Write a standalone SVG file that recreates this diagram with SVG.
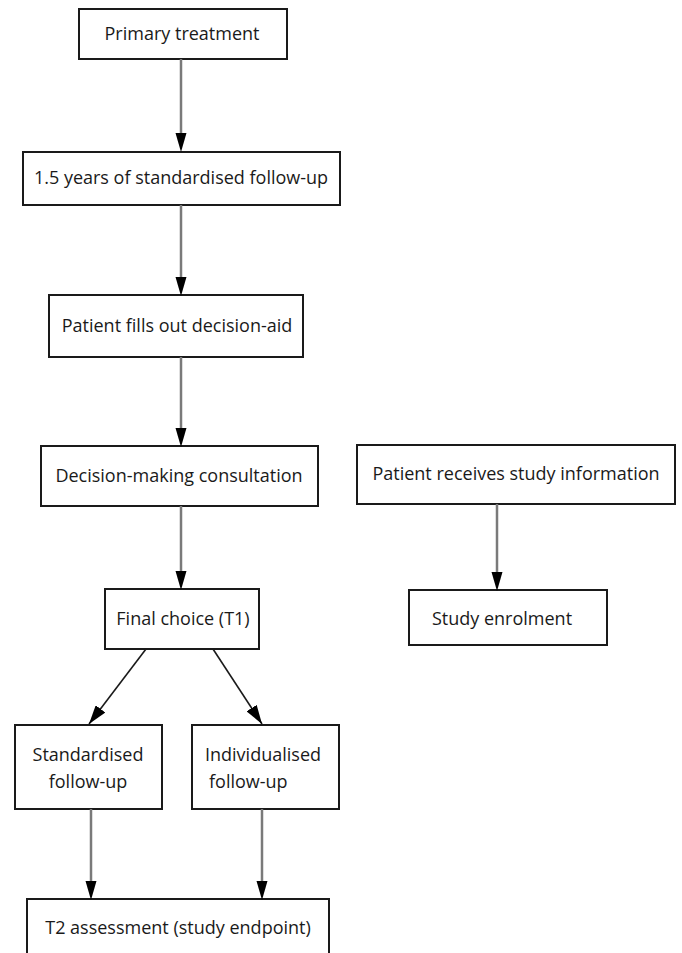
<svg xmlns="http://www.w3.org/2000/svg" width="682" height="953" viewBox="0 0 682 953">
<style>
.box{fill:#fff;stroke:#1a1a1a;stroke-width:2}
.t{font-family:"Open Sans","Liberation Sans",Arial,sans-serif;font-size:18px;fill:#1a1a1a}
.c{text-anchor:middle}
.v{stroke:#7a7a7a;stroke-width:2.5;fill:none}
.d{stroke:#1a1a1a;stroke-width:1.6;fill:none}
</style>
<defs>
<marker id="ad" markerUnits="userSpaceOnUse" markerWidth="20" markerHeight="12" viewBox="0 0 20 12" refX="19" refY="6" orient="auto">
<path d="M0,0 L19,6 L0,12 Z" fill="#000"/>
</marker>
</defs>
<g id="n1"><rect class="box" x="79" y="9" width="208" height="50"/><text class="t c" x="182" y="40">Primary treatment</text></g>
<g id="n2"><rect class="box" x="23" y="152" width="317" height="53"/><text class="t c" x="181" y="184">1.5 years of standardised follow-up</text></g>
<g id="n3"><rect class="box" x="49" y="295" width="254" height="62"/><text class="t c" x="177" y="332">Patient fills out decision-aid</text></g>
<g id="n4"><rect class="box" x="41" y="446" width="277" height="60"/><text class="t c" x="179" y="482">Decision-making consultation</text></g>
<g id="n5"><rect class="box" x="357" y="445" width="318" height="59"/><text class="t c" x="516" y="480">Patient receives study information</text></g>
<g id="n6"><rect class="box" x="409" y="590" width="198" height="55"/><text class="t c" x="502" y="625">Study enrolment</text></g>
<g id="n7"><rect class="box" x="105" y="589" width="154" height="60"/><text class="t c" x="183" y="625">Final choice (T1)</text></g>
<g id="n8"><rect class="box" x="15" y="725" width="147" height="84"/><text class="t c" x="88" y="761">Standardised</text><text class="t c" x="88" y="788">follow-up</text></g>
<g id="n9"><rect class="box" x="192" y="725" width="147" height="84"/><text class="t" x="205" y="761">Individualised</text><text class="t" x="209" y="788">follow-up</text></g>
<g id="n10"><rect class="box" x="27" y="899" width="302" height="70"/><text class="t c" x="178" y="934">T2 assessment (study endpoint)</text></g>
<g id="edges">
<path class="v" d="M181,59 V133"/>
<path class="v" d="M181,205 V277"/>
<path class="v" d="M181,357 V428"/>
<path class="v" d="M181,506 V571"/>
<path class="v" d="M497,504 V572"/>
<path class="v" d="M91,809 V881"/>
<path class="v" d="M262,809 V881"/>
<path d="M175.5,133 H186.5 L181,152 Z"/>
<path d="M175.5,277 H186.5 L181,296 Z"/>
<path d="M175.5,428 H186.5 L181,447 Z"/>
<path d="M175.5,571 H186.5 L181,590 Z"/>
<path d="M491.5,572 H502.5 L497,591 Z"/>
<path d="M85.5,881 H96.5 L91,900 Z"/>
<path d="M256.5,881 H267.5 L262,900 Z"/>
<path class="d" d="M146,649 L89,724" marker-end="url(#ad)"/>
<path class="d" d="M213,649 L262,724" marker-end="url(#ad)"/>
</g>
</svg>
